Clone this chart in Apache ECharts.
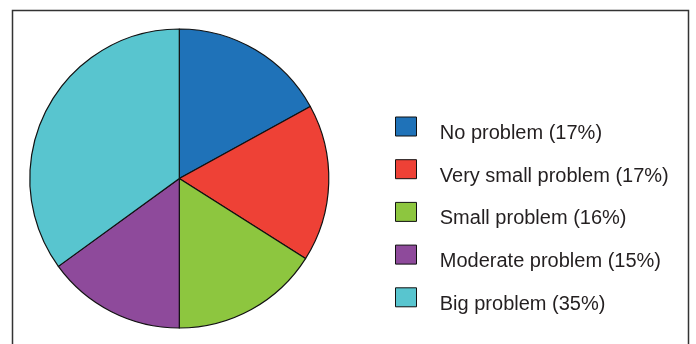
<!DOCTYPE html>
<html>
<head>
<meta charset="utf-8">
<script src="https://cdn.jsdelivr.net/npm/echarts@6/dist/echarts.min.js"></script>
<style>
  html, body { margin: 0; padding: 0; background: #fff; }
  #chart { width: 696px; height: 344px; }
</style>
</head>
<body>
<div id="chart"></div>
<script>
// Survey responses: how big a problem is it?
const categories = ['No problem', 'Very small problem', 'Small problem', 'Moderate problem', 'Big problem'];
const shares = [17, 17, 16, 15, 35];
const sliceColors = ['#1f72b8', '#ee4136', '#8dc63f', '#8e4a9b', '#58c5cf'];

const labelFor = {};
categories.forEach((c, i) => { labelFor[c] = c + ' (' + shares[i] + '%)'; });

const chart = echarts.init(document.getElementById('chart'), null, { renderer: 'canvas' });
chart.setOption({
  animation: false,
  color: sliceColors,
  graphic: [{
    type: 'rect',
    silent: true,
    shape: { x: 12.5, y: 10.5, width: 676, height: 400 },
    style: { fill: 'none', stroke: '#333', lineWidth: 1.5 }
  }],
  legend: {
    orient: 'vertical',
    left: 395,
    top: 116.5,
    padding: 0,
    icon: 'rect',
    itemWidth: 21,
    itemHeight: 19,
    itemGap: 15.7,
    selectedMode: false,
    itemStyle: { borderColor: '#111', borderWidth: 1 },
    // a thin spacer token sets a taller line so the label sits a little lower than the swatch
    formatter: name => '{s| }{t|' + labelFor[name] + '}',
    textStyle: {
      fontFamily: 'Liberation Sans, Arial, sans-serif',
      fontSize: 20,
      color: '#231f20',
      padding: [0, 0, 0, 18],
      rich: {
        s: { fontSize: 1, lineHeight: 34 },
        t: {
          fontFamily: 'Liberation Sans, Arial, sans-serif',
          fontSize: 20,
          lineHeight: 20,
          color: '#231f20',
          verticalAlign: 'bottom'
        }
      }
    },
    data: categories
  },
  series: [{
    type: 'pie',
    center: [179.3, 178.5],
    radius: [0, 149.5],
    startAngle: 90,
    clockwise: true,
    label: { show: false },
    labelLine: { show: false },
    emphasis: { disabled: true },
    itemStyle: { borderColor: '#111', borderWidth: 1.2 },
    data: categories.map((c, i) => ({ name: c, value: shares[i] }))
  }]
});
</script>
</body>
</html>
